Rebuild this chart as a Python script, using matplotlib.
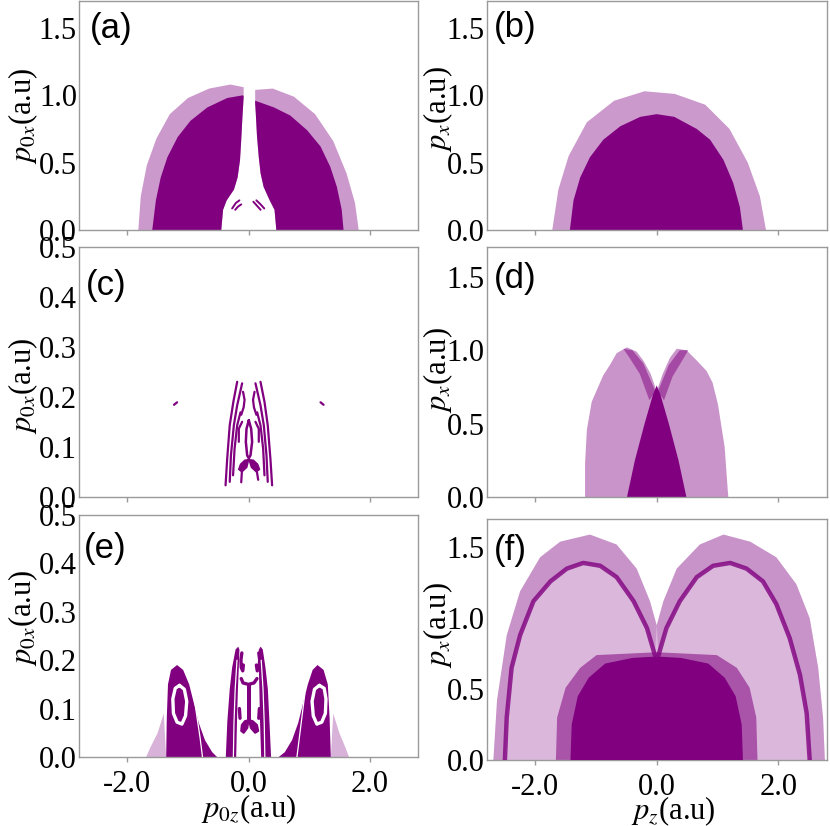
import matplotlib
matplotlib.use("Agg")
import matplotlib.pyplot as plt
from matplotlib.ticker import FormatStrFormatter

plt.rcParams['axes.unicode_minus'] = False
plt.rcParams['mathtext.fontset'] = 'stix'
plt.rcParams['font.family'] = ['Liberation Serif', 'DejaVu Serif']

PURPLE = '#800080'
SPINE = '#9a9a9a'

# ---------------- data (p_z, p_x) outlines ----------------
panel_labels = ['(a)', '(b)', '(c)', '(d)', '(e)', '(f)']
x_ticks = [-2.0, 0.0, 2.0]
y_ticks_wide = [0.0, 0.5, 1.0, 1.5]
y_ticks_narrow = [0.0, 0.1, 0.2, 0.3, 0.4, 0.5]

# (a)
a_gap_left = [(-0.45, 0), (-0.42, 0.15), (-0.36, 0.22), (-0.24, 0.30), (-0.18, 0.39),
              (-0.14, 0.52), (-0.12, 0.67), (-0.10, 0.84), (-0.08, 0.99)]
a_gap_right = [(0.46, 0), (0.43, 0.15), (0.35, 0.22), (0.25, 0.32), (0.20, 0.42),
               (0.17, 0.54), (0.14, 0.70), (0.12, 0.87), (0.11, 0.94)]
a_core_left = [(-1.59, 0), (-1.53, 0.22), (-1.45, 0.39), (-1.34, 0.54), (-1.17, 0.69),
               (-0.96, 0.81), (-0.68, 0.91), (-0.35, 0.98), (-0.09, 1.0)]
a_core_right = [(0.11, 0.96), (0.42, 0.91), (0.69, 0.85), (0.97, 0.74), (1.19, 0.62),
                (1.35, 0.47), (1.46, 0.32), (1.54, 0.15), (1.57, 0)]
a_halo_left = [(-1.82, 0), (-1.78, 0.25), (-1.68, 0.48), (-1.52, 0.68), (-1.30, 0.86),
               (-1.0, 0.98), (-0.65, 1.05), (-0.3, 1.08), (-0.08, 1.06)]
a_halo_right = [(0.11, 1.04), (0.4, 1.05), (0.75, 0.99), (1.1, 0.86), (1.40, 0.66),
                (1.62, 0.42), (1.76, 0.2), (1.82, 0)]
a_arcs = [[(-0.27, 0.16), (-0.21, 0.20), (-0.15, 0.22)],
          [(-0.22, 0.15), (-0.17, 0.175), (-0.12, 0.19)],
          [(0.08, 0.21), (0.14, 0.18), (0.20, 0.15)],
          [(0.13, 0.22), (0.20, 0.19), (0.26, 0.16)]]

# (b)
b_core = [(-1.43, 0), (-1.37, 0.22), (-1.26, 0.39), (-1.10, 0.54), (-0.88, 0.67),
          (-0.60, 0.77), (-0.27, 0.84), (0.0, 0.86), (0.29, 0.84), (0.66, 0.75),
          (0.88, 0.67), (1.10, 0.52), (1.26, 0.35), (1.37, 0.17), (1.42, 0)]
b_halo = [(-1.72, 0), (-1.62, 0.3), (-1.45, 0.55), (-1.15, 0.8), (-0.7, 0.96),
          (-0.2, 1.03), (0.3, 1.01), (0.8, 0.93), (1.2, 0.75), (1.5, 0.5),
          (1.7, 0.25), (1.8, 0)]

# (c)
c_strands = [[(-0.379, 0.024), (-0.352, 0.077), (-0.31, 0.144), (-0.25, 0.191), (-0.187, 0.231)],
             [(-0.31, 0.031), (-0.29, 0.084), (-0.242, 0.144), (-0.187, 0.184), (-0.105, 0.228)],
             [(-0.255, 0.044), (-0.23, 0.097), (-0.187, 0.144), (-0.132, 0.17)],
             [(-0.09, 0.211), (-0.065, 0.195), (-0.08, 0.18), (-0.12, 0.165)],
             [(-0.105, 0.151), (-0.16, 0.137), (-0.16, 0.111)],
             [(0.39, 0.024), (0.362, 0.077), (0.318, 0.144), (0.264, 0.191), (0.198, 0.231)],
             [(0.318, 0.031), (0.297, 0.084), (0.253, 0.144), (0.198, 0.184), (0.115, 0.228)],
             [(0.264, 0.044), (0.242, 0.097), (0.198, 0.144), (0.143, 0.17)],
             [(0.10, 0.211), (0.075, 0.195), (0.09, 0.18), (0.13, 0.165)],
             [(0.115, 0.151), (0.17, 0.137), (0.17, 0.111)],
             [(-0.11, 0.05), (-0.12, 0.03)],
             [(0.14, 0.05), (0.16, 0.035)],
             [(-1.23, 0.185), (-1.18, 0.19)],
             [(1.19, 0.19), (1.24, 0.185)]]
c_loop = [(0.005, 0.154), (0.044, 0.137), (0.06, 0.111), (0.033, 0.084), (0.005, 0.078),
          (-0.022, 0.084), (-0.044, 0.111), (-0.033, 0.137), (0.005, 0.154)]
c_wings = [[(0.0, 0.075), (-0.06, 0.074), (-0.13, 0.066), (-0.16, 0.056), (-0.11, 0.051), (-0.03, 0.06)],
           [(0.01, 0.075), (0.08, 0.074), (0.15, 0.066), (0.18, 0.056), (0.13, 0.051), (0.05, 0.06)]]

# (d)
d_lobe_left = [(-1.18, 0), (-1.18, 0.23), (-1.15, 0.46), (-1.07, 0.65), (-0.88, 0.83),
               (-0.77, 0.90), (-0.66, 0.98), (-0.49, 1.02), (-0.33, 0.99), (-0.22, 0.93),
               (-0.10, 0.84), (0.05, 0.66), (0.18, 0.45), (0.32, 0.22), (0.48, 0)]
d_lobe_right = [(-0.48, 0), (-0.32, 0.22), (-0.18, 0.45), (-0.05, 0.66), (0.10, 0.84),
                (0.22, 0.95), (0.33, 1.01), (0.49, 1.0), (0.66, 0.93), (0.82, 0.86),
                (0.92, 0.78), (1.01, 0.63), (1.12, 0.34), (1.17, 0.05), (1.18, 0)]
d_arm_left = [(-0.02, 0.72), (-0.22, 0.91), (-0.40, 1.0), (-0.55, 1.01), (-0.45, 0.95),
              (-0.28, 0.84), (-0.12, 0.66)]
d_arm_right = [(0.02, 0.72), (0.20, 0.90), (0.38, 1.0), (0.52, 1.0), (0.42, 0.93),
               (0.26, 0.82), (0.12, 0.66)]
d_core = [(-0.49, 0), (-0.36, 0.25), (-0.2, 0.5), (-0.06, 0.70), (0.0, 0.76),
          (0.06, 0.70), (0.2, 0.5), (0.36, 0.25), (0.49, 0)]

# (e)
e_blob_left = [(-1.36, 0), (-1.35, 0.08), (-1.33, 0.15), (-1.28, 0.18), (-1.18, 0.19),
               (-1.08, 0.18), (-0.98, 0.15), (-0.90, 0.11), (-0.82, 0.07), (-0.72, 0.035),
               (-0.60, 0.01), (-0.52, 0)]
e_blob_right = [(0.50, 0), (0.60, 0.01), (0.72, 0.035), (0.82, 0.07), (0.90, 0.11),
                (0.98, 0.15), (1.06, 0.18), (1.14, 0.19), (1.24, 0.18), (1.31, 0.15),
                (1.34, 0.08), (1.36, 0)]
e_halo_left = [(-1.69, 0), (-1.62, 0.02), (-1.50, 0.05), (-1.40, 0.09), (-1.36, 0)]
e_halo_right = [(1.36, 0), (1.40, 0.09), (1.50, 0.05), (1.60, 0.02), (1.66, 0)]
e_ring_left = [(-1.14, 0.148), (-1.06, 0.14), (-1.02, 0.115), (-1.04, 0.085), (-1.10, 0.068),
               (-1.18, 0.072), (-1.24, 0.09), (-1.25, 0.12), (-1.21, 0.142), (-1.14, 0.148)]
e_ring_right = [(1.17, 0.148), (1.25, 0.142), (1.28, 0.12), (1.27, 0.09), (1.21, 0.072),
                (1.13, 0.068), (1.07, 0.085), (1.05, 0.115), (1.09, 0.14), (1.17, 0.148)]
e_streaks = [[(-0.90, 0.13), (-0.86, 0.09), (-0.80, 0.04), (-0.76, 0.0)],
             [(0.93, 0.13), (0.89, 0.09), (0.84, 0.04), (0.80, 0.0)],
             [(-0.25, 0.0), (-0.24, 0.07), (-0.22, 0.14), (-0.19, 0.2)],
             [(0.27, 0.0), (0.26, 0.07), (0.24, 0.14), (0.21, 0.2)]]
e_pillar_left = [(-0.375, 0), (-0.35, 0.073), (-0.31, 0.14), (-0.27, 0.185), (-0.214, 0.222),
                 (-0.17, 0.228), (-0.15, 0.222), (-0.16, 0.185), (-0.175, 0.14),
                 (-0.19, 0.073), (-0.203, 0)]
e_pillar_right = [(0.373, 0), (0.346, 0.073), (0.32, 0.14), (0.28, 0.185), (0.236, 0.222),
                  (0.20, 0.228), (0.17, 0.222), (0.17, 0.185), (0.18, 0.14),
                  (0.19, 0.073), (0.209, 0)]
e_stem = [(-0.025, 0.15), (0.035, 0.15), (0.035, 0.072), (-0.025, 0.072)]
e_lines = [[(-0.11, 0.215), (-0.125, 0.20), (-0.12, 0.185), (-0.095, 0.178), (-0.085, 0.19)],
           [(0.17, 0.215), (0.185, 0.20), (0.175, 0.185), (0.145, 0.178), (0.13, 0.19)],
           [(-0.12, 0.162), (-0.09, 0.153), (0.0, 0.150), (0.09, 0.153), (0.14, 0.162)],
           [(-0.14, 0.08), (-0.15, 0.10)],
           [(0.17, 0.08), (0.18, 0.10)]]
e_wings = [[(0.0, 0.076), (-0.06, 0.074), (-0.11, 0.066), (-0.12, 0.054), (-0.08, 0.05), (-0.02, 0.06)],
           [(0.01, 0.076), (0.07, 0.074), (0.14, 0.066), (0.16, 0.054), (0.11, 0.05), (0.04, 0.06)]]

# (f)
f_envelope = [(-2.69, 0), (-2.63, 0.42), (-2.47, 0.88), (-2.25, 1.19), (-1.92, 1.43),
              (-1.59, 1.54), (-1.10, 1.59), (-0.66, 1.52), (-0.33, 1.35), (-0.11, 1.12),
              (0.0, 0.95), (0.11, 1.12), (0.33, 1.35), (0.71, 1.52), (1.10, 1.59),
              (1.54, 1.54), (1.97, 1.43), (2.30, 1.24), (2.52, 1.0), (2.66, 0.65),
              (2.74, 0.30), (2.77, 0)]
f_band_left = [(-2.50, 0), (-2.47, 0.30), (-2.39, 0.65), (-2.25, 0.88), (-2.03, 1.12),
               (-1.75, 1.26), (-1.48, 1.35), (-1.21, 1.39), (-0.93, 1.37), (-0.66, 1.29),
               (-0.38, 1.12), (-0.16, 0.93), (-0.03, 0.74)]
f_band_right = [(0.03, 0.74), (0.16, 0.93), (0.38, 1.12), (0.66, 1.29), (0.93, 1.37),
                (1.21, 1.39), (1.48, 1.35), (1.75, 1.26), (1.97, 1.10), (2.19, 0.86),
                (2.36, 0.60), (2.47, 0.33), (2.52, 0)]
f_dome = [(-1.66, 0), (-1.64, 0.30), (-1.50, 0.51), (-1.26, 0.65), (-0.99, 0.74),
          (0.0, 0.76), (0.99, 0.74), (1.32, 0.65), (1.53, 0.51), (1.64, 0.30), (1.66, 0)]
f_core = [(-1.42, 0), (-1.40, 0.25), (-1.30, 0.45), (-1.12, 0.58), (-0.85, 0.68),
          (-0.4, 0.72), (0.0, 0.73), (0.4, 0.72), (0.85, 0.68), (1.12, 0.58),
          (1.30, 0.45), (1.40, 0.25), (1.42, 0)]

# ---------------- figure ----------------
fig = plt.figure(figsize=(8.30, 8.26), dpi=100)
W, H = 830.0, 826.0
rects = [
    (79, 1, 418, 230), (486.7, 1, 826.7, 230),
    (79, 247.3, 418, 497.3), (486.7, 247.3, 826.7, 497.3),
    (79, 515, 418, 757), (486.7, 519, 826.7, 760),
]
axes = []
for (x0, y0, x1, y1) in rects:
    axes.append(fig.add_axes([x0 / W, 1 - y1 / H, (x1 - x0) / W, (y1 - y0) / H]))


def fill(ax, pts, alpha=1.0, color=PURPLE, z=2):
    ax.fill([p[0] for p in pts], [p[1] for p in pts], color=color, alpha=alpha,
            lw=0, zorder=z)


def line(ax, pts, lw=1.5, color=PURPLE, alpha=1.0, z=3):
    ax.plot([p[0] for p in pts], [p[1] for p in pts], color=color, lw=lw,
            alpha=alpha, solid_capstyle='round', zorder=z)


# (a)
ax = axes[0]
fill(ax, a_halo_left + a_gap_left[::-1], alpha=0.4)
fill(ax, a_halo_right + a_gap_right, alpha=0.4)
fill(ax, a_core_left + a_gap_left[::-1])
fill(ax, a_core_right + a_gap_right)
for arc in a_arcs:
    line(ax, arc, lw=1.4)

# (b)
ax = axes[1]
fill(ax, b_halo, alpha=0.4)
fill(ax, b_core)

# (c)
ax = axes[2]
for s in c_strands:
    line(ax, s, lw=1.6)
line(ax, c_loop, lw=1.8)
for wng in c_wings:
    fill(ax, wng)
    line(ax, wng + wng[:1], lw=1.2)

# (d)
ax = axes[3]
fill(ax, d_lobe_left, alpha=0.42)
fill(ax, d_lobe_right, alpha=0.42)
fill(ax, d_arm_left, alpha=0.5)
fill(ax, d_arm_right, alpha=0.5)
fill(ax, d_core)

# (e)
ax = axes[4]
fill(ax, e_halo_left, alpha=0.3)
fill(ax, e_halo_right, alpha=0.3)
fill(ax, e_blob_left)
fill(ax, e_blob_right)
line(ax, e_ring_left, lw=2.4, color='white', z=4)
line(ax, e_ring_right, lw=2.4, color='white', z=4)
fill(ax, e_pillar_left)
fill(ax, e_pillar_right)
fill(ax, e_stem)
for wng in e_wings:
    fill(ax, wng)
    line(ax, wng + wng[:1], lw=1.5)
for ln in e_lines:
    line(ax, ln, lw=2.4)
for st in e_streaks:
    line(ax, st, lw=0.9, color='white', z=4)

# (f)
ax = axes[5]
fill(ax, f_envelope, alpha=0.28)
fill(ax, f_envelope[:11] + f_band_left[::-1], alpha=0.2)
fill(ax, f_envelope[10:] + f_band_right[::-1], alpha=0.2)
fill(ax, f_dome, alpha=0.55)
line(ax, f_band_left, lw=3.2, alpha=0.8)
line(ax, f_band_right, lw=3.2, alpha=0.8)
fill(ax, f_core, z=4)

# ---------------- axes styling ----------------
ylims = [(0, 1.7), (0, 1.7), (0, 0.5), (0, 1.7), (0, 0.5), (0, 1.7)]
yticks = [y_ticks_wide, y_ticks_wide, y_ticks_narrow, y_ticks_wide, y_ticks_narrow, y_ticks_wide]
ylabels = [r'$p_{0x}$(a.u)', r'$p_x$(a.u)', r'$p_{0x}$(a.u)', r'$p_x$(a.u)',
           r'$p_{0x}$(a.u)', r'$p_x$(a.u)']
ylabel_pos = [(-0.115, 0.50), (-0.093, 0.53), (-0.115, 0.446), (-0.093, 0.51),
              (-0.115, 0.575), (-0.093, 0.56)]
plabel_pos = [(0.033, 0.837), (0.022, 0.844), (0.02, 0.81), (0.022, 0.836),
              (0.014, 0.822), (0.022, 0.83)]

for i, ax in enumerate(axes):
    ax.set_xlim(-2.8, 2.8)
    ax.set_ylim(*ylims[i])
    ax.set_xticks(x_ticks)
    ax.set_yticks(yticks[i])
    ax.xaxis.set_major_formatter(FormatStrFormatter('%.1f'))
    ax.yaxis.set_major_formatter(FormatStrFormatter('%.1f'))
    for sp in ax.spines.values():
        sp.set_color(SPINE)
        sp.set_linewidth(1.0)
    ax.tick_params(axis='x', direction='out', length=3.6, width=1.0, color=SPINE,
                   labelsize=22, pad=6, labelbottom=(i >= 4))
    ax.tick_params(axis='y', length=0, pad=1.5, labelsize=22)
    ax.set_ylabel(ylabels[i], fontsize=22)
    ax.yaxis.set_label_coords(*ylabel_pos[i])
    ax.text(plabel_pos[i][0], plabel_pos[i][1], panel_labels[i], transform=ax.transAxes,
            fontsize=25, family='Liberation Sans', ha='left', va='baseline', zorder=6)

axes[4].set_xlabel(r'$p_{0z}$(a.u)', fontsize=22)
axes[4].xaxis.set_label_coords(0.5, -0.148)
axes[5].set_xlabel(r'$p_z$(a.u)', fontsize=22)
axes[5].xaxis.set_label_coords(0.55, -0.142)

fig.savefig('out.png', dpi=100)
